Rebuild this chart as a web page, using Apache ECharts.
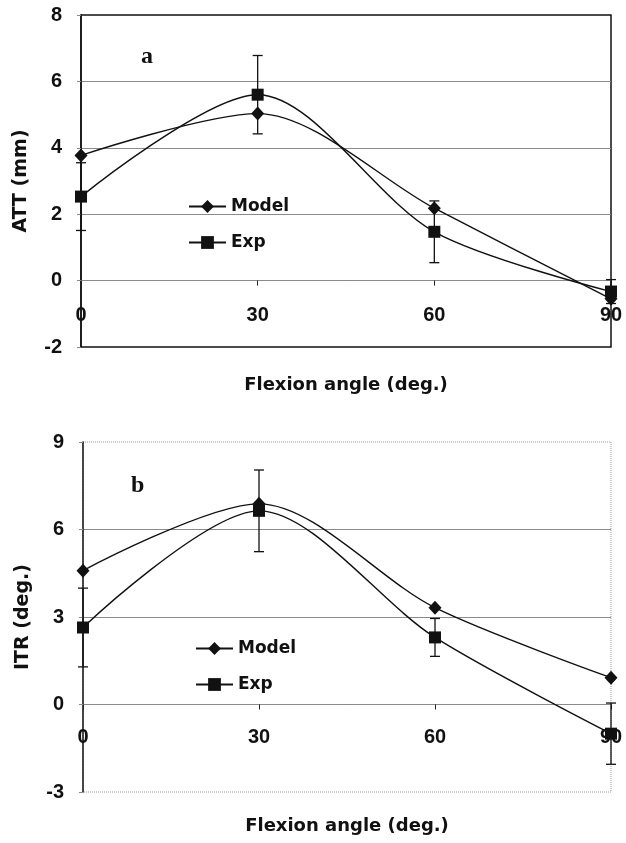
<!DOCTYPE html>
<html><head><meta charset="utf-8">
<script src="https://cdn.jsdelivr.net/npm/echarts@6/dist/echarts.min.js"></script>
<style>html,body{margin:0;padding:0;background:#fff}#c{width:626px;height:843px}</style>
</head><body><div id="c"></div>
<script>
// ---- data ----
const flexion = [0, 30, 60, 90];
const attModel = [3.77, 5.03, 2.18, -0.55];
const attExp = [2.53, 5.6, 1.47, -0.33];
const attExpErr = [1.02, 1.18, 0.93, 0.36];
const itrModel = [4.59, 6.88, 3.32, 0.92];
const itrExp = [2.64, 6.64, 2.3, -1.0];
const itrExpErr = [1.35, 1.4, 0.65, 1.05];
const xTicks = [0, 30, 60, 90];
const attTicks = [-2, 0, 2, 4, 6, 8];
const itrTicks = [-3, 0, 3, 6, 9];

const FONT = 'DejaVu Sans';
const NUMFONT = 'Liberation Sans';

function pairs(xs, ys) { return xs.map((x, i) => [x, ys[i]]); }
function errData(xs, ys, es) { return xs.map((x, i) => [x, ys[i], es[i]]); }

function errRender(params, api) {
  const x = api.value(0), m = api.value(1), e = api.value(2);
  const hi = api.coord([x, m + e]), lo = api.coord([x, m - e]);
  const w = 5;
  const style = { stroke: '#111', lineWidth: 1.3 };
  return { type: 'group', children: [
    { type: 'line', shape: { x1: hi[0], y1: hi[1], x2: lo[0], y2: lo[1] }, style },
    { type: 'line', shape: { x1: hi[0] - w, y1: hi[1], x2: hi[0] + w, y2: hi[1] }, style },
    { type: 'line', shape: { x1: lo[0] - w, y1: lo[1], x2: lo[0] + w, y2: lo[1] }, style }
  ]};
}

function xAxisOf(gi, gap, margin) {
  return {
    type: 'value', gridIndex: gi,
    min: xTicks[0], max: xTicks[xTicks.length - 1], interval: xTicks[1] - xTicks[0],
    name: 'Flexion angle (deg.)', nameLocation: 'middle', nameGap: gap,
    nameTextStyle: { fontFamily: FONT, fontWeight: 'bold', fontSize: 18, color: '#111' },
    axisLine: { onZero: true, lineStyle: { color: '#8a8a8a', width: 1 } },
    axisTick: { show: true, length: 5, lineStyle: { color: '#222' } },
    axisLabel: { margin: margin, fontFamily: NUMFONT, fontWeight: 'bold', fontSize: 20, color: '#111', showMinLabel: true, showMaxLabel: true },
    splitLine: { show: false }
  };
}
function yAxisOf(gi, ticks, name) {
  return {
    type: 'value', gridIndex: gi,
    min: ticks[0], max: ticks[ticks.length - 1], interval: ticks[1] - ticks[0],
    name: name, nameLocation: 'middle', nameGap: 50,
    nameTextStyle: { fontFamily: FONT, fontWeight: 'bold', fontSize: 19, color: '#111' },
    axisLine: { show: true, onZero: false, lineStyle: { color: '#111', width: 1.5 } },
    axisTick: { show: true, length: 4, lineStyle: { color: '#888' } },
    axisLabel: { margin: 19, fontFamily: NUMFONT, fontWeight: 'bold', fontSize: 20, color: '#111' },
    splitLine: { show: true, showMinLine: false, showMaxLine: false, lineStyle: { color: '#8a8a8a', width: 1 } }
  };
}
function modelSeries(xi, data) {
  return { name: 'Model', type: 'line', xAxisIndex: xi, yAxisIndex: xi, data: data, smooth: 0.3,
    symbol: 'diamond', symbolSize: [13, 14], itemStyle: { color: '#111' },
    lineStyle: { color: '#111', width: 1.4 }, z: 3 };
}
function expSeries(xi, data) {
  return { name: 'Exp', type: 'line', xAxisIndex: xi, yAxisIndex: xi, data: data, smooth: 0.3,
    symbol: 'rect', symbolSize: 12, itemStyle: { color: '#111' },
    lineStyle: { color: '#111', width: 1.4 }, z: 3 };
}
function errSeries(xi, data) {
  return { type: 'custom', xAxisIndex: xi, yAxisIndex: xi, data: data, renderItem: errRender,
    encode: { x: 0, y: 1 }, z: 4, silent: true };
}
function legendOf(left, top) {
  return { orient: 'vertical', left: left, top: top, padding: 0, itemWidth: 37, itemHeight: 16, itemGap: 19,
    data: ['Model', 'Exp'], selectedMode: false,
    textStyle: { fontFamily: FONT, fontWeight: 'bold', fontSize: 17, color: '#111' } };
}

const chart = echarts.init(document.getElementById('c'), null, { renderer: 'canvas' });
chart.setOption({
  animation: false,
  backgroundColor: '#fff',
  title: [
    { text: 'a', left: 141, top: 45, padding: 0, textStyle: { fontFamily: 'Liberation Serif', fontWeight: 'bold', fontSize: 24, color: '#111' } },
    { text: 'b', left: 131, top: 474, padding: 0, textStyle: { fontFamily: 'Liberation Serif', fontWeight: 'bold', fontSize: 24, color: '#111' } }
  ],
  grid: [
    { left: 81, top: 15, width: 530, height: 332, show: true, borderColor: '#111', borderWidth: 1.5, outerBoundsMode: 'none', containLabel: false },
    { left: 83, top: 442, width: 528, height: 350, show: true, borderColor: '#999', borderWidth: 1, borderType: 'dotted', outerBoundsMode: 'none', containLabel: false }
  ],
  legend: [legendOf(188, 198), legendOf(195, 640)],
  xAxis: [xAxisOf(0, 29, -42), xAxisOf(1, 25, -65)],
  yAxis: [yAxisOf(0, attTicks, 'ATT (mm)'), yAxisOf(1, itrTicks, 'ITR (deg.)')],
  series: [
    modelSeries(0, pairs(flexion, attModel)),
    expSeries(0, pairs(flexion, attExp)),
    errSeries(0, errData(flexion, attExp, attExpErr)),
    modelSeries(1, pairs(flexion, itrModel)),
    expSeries(1, pairs(flexion, itrExp)),
    errSeries(1, errData(flexion, itrExp, itrExpErr))
  ]
});
</script>
</body></html>
